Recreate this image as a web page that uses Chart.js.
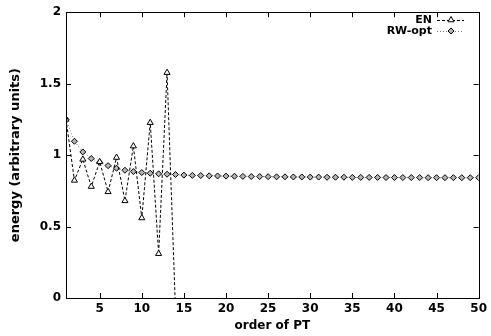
<!DOCTYPE html>
<html><head><meta charset="utf-8">
<script src="https://cdn.jsdelivr.net/npm/chart.js@4/dist/chart.umd.min.js"></script>
<style>html,body{margin:0;padding:0;background:#fff}#wrap{width:491px;height:336px}</style>
</head><body><div id="wrap"><canvas id="c" width="491" height="336"></canvas></div>
<script>
const orders = [];
for (let i = 1; i <= 50; i++) orders.push(i);
const enValues = [1.25, 0.823, 0.97, 0.78, 0.953, 0.743, 0.983, 0.68, 1.063, 0.56, 1.227, 0.31, 1.577, -0.08];
const rwValues = [1.25, 1.097, 1.022, 0.976, 0.949, 0.926, 0.908, 0.894, 0.885, 0.878,
  0.873, 0.869, 0.866, 0.864, 0.860, 0.858, 0.857, 0.855, 0.854, 0.853,
  0.852, 0.851, 0.850, 0.850, 0.849, 0.848, 0.848, 0.847, 0.847, 0.846,
  0.846, 0.845, 0.845, 0.845, 0.844, 0.844, 0.844, 0.844, 0.843, 0.843,
  0.843, 0.843, 0.843, 0.842, 0.842, 0.842, 0.842, 0.842, 0.842, 0.842];
const xTicks = [5, 10, 15, 20, 25, 30, 35, 40, 45, 50];
const yTicks = [0, 0.5, 1, 1.5, 2];
const seriesNames = ['EN', 'RW-opt'];

const FONT = "'DejaVu Sans', sans-serif";

const boxPlugin = {
  id: 'box',
  afterDatasetsDraw(chart) {
    const {ctx, chartArea: a, scales} = chart;
    ctx.save();
    ctx.strokeStyle = '#000';
    ctx.lineWidth = 1;
    ctx.setLineDash([]);
    ctx.strokeRect(Math.round(a.left) + 0.5, Math.round(a.top) + 0.5, Math.round(a.right - a.left), Math.round(a.bottom - a.top));
    const tl = 5;
    ctx.beginPath();
    xTicks.forEach(v => {
      const x = Math.round(scales.x.getPixelForValue(v)) + 0.5;
      ctx.moveTo(x, a.bottom); ctx.lineTo(x, a.bottom - tl);
      ctx.moveTo(x, a.top); ctx.lineTo(x, a.top + tl);
    });
    yTicks.forEach(v => {
      const y = Math.round(scales.y.getPixelForValue(v)) + 0.5;
      ctx.moveTo(a.left, y); ctx.lineTo(a.left + tl, y);
      ctx.moveTo(a.right, y); ctx.lineTo(a.right - tl, y);
    });
    ctx.stroke();
    // legend
    ctx.font = 'bold 11px ' + FONT;
    ctx.textAlign = 'right';
    ctx.textBaseline = 'middle';
    ctx.fillStyle = '#000';
    const ds = chart.data.datasets;
    const rows = [20, 31];
    ds.forEach((d, i) => {
      const y = rows[i];
      ctx.fillText(d.label, 432, y);
      ctx.save();
      ctx.strokeStyle = d.borderColor;
      ctx.setLineDash(d.borderDash);
      ctx.beginPath(); ctx.moveTo(437, y + 0.5); ctx.lineTo(464, y + 0.5); ctx.stroke();
      ctx.restore();
      ctx.save();
      ctx.fillStyle = d.pointBackgroundColor;
      ctx.strokeStyle = d.pointBorderColor;
      ctx.lineWidth = 1;
      Chart.helpers.drawPoint(ctx, {pointStyle: d.pointStyle, radius: d.pointRadius, borderWidth: 1, rotation: 0}, 451, y);
      ctx.restore();
    });
    ctx.restore();
  }
};

new Chart(document.getElementById('c'), {
  type: 'line',
  data: {
    datasets: [
      {
        label: seriesNames[0],
        data: enValues.map((v, i) => ({x: orders[i], y: v})),
        borderColor: '#000', borderWidth: 1, borderDash: [3, 2],
        pointStyle: 'triangle', pointRadius: 3.5,
        pointBackgroundColor: '#fff', pointBorderColor: '#000', pointBorderWidth: 1,
        fill: false, tension: 0
      },
      {
        label: seriesNames[1],
        data: rwValues.map((v, i) => ({x: orders[i], y: v})),
        borderColor: '#777', borderWidth: 1, borderDash: [1, 2],
        pointStyle: 'rectRot', pointRadius: 3,
        pointBackgroundColor: '#b4b4b4', pointBorderColor: '#000', pointBorderWidth: 1,
        fill: false, tension: 0
      }
    ]
  },
  options: {
    responsive: false, animation: false, devicePixelRatio: 1,
    layout: {padding: {top: 8, right: 11, left: 0, bottom: 0}},
    plugins: {legend: {display: false}, tooltip: {enabled: false}},
    scales: {
      x: {
        type: 'linear', min: 1, max: 50,
        afterBuildTicks: s => { s.ticks = xTicks.map(v => ({value: v})); },
        afterFit: s => { s.height = 38; },
        grid: {display: false, drawTicks: false},
        border: {display: false},
        ticks: {color: '#000', font: {family: FONT, weight: 'bold', size: 12}, padding: 4, maxRotation: 0, autoSkip: false},
        title: {display: true, text: 'order of PT', color: '#000', font: {family: FONT, weight: 'bold', size: 12}, padding: {top: 0, bottom: 3}}
      },
      y: {
        type: 'linear', min: 0, max: 2,
        afterBuildTicks: s => { s.ticks = yTicks.map(v => ({value: v})); },
        afterFit: s => { s.width = 66; },
        grid: {display: false, drawTicks: false},
        border: {display: false},
        ticks: {color: '#000', font: {family: FONT, weight: 'bold', size: 12}, padding: 5,
          callback: v => String(v)},
        title: {display: true, text: 'energy (arbitrary units)', color: '#000', font: {family: FONT, weight: 'bold', size: 13}, padding: {top: 8, bottom: 0}}
      }
    }
  },
  plugins: [boxPlugin]
});
</script>
</body></html>
